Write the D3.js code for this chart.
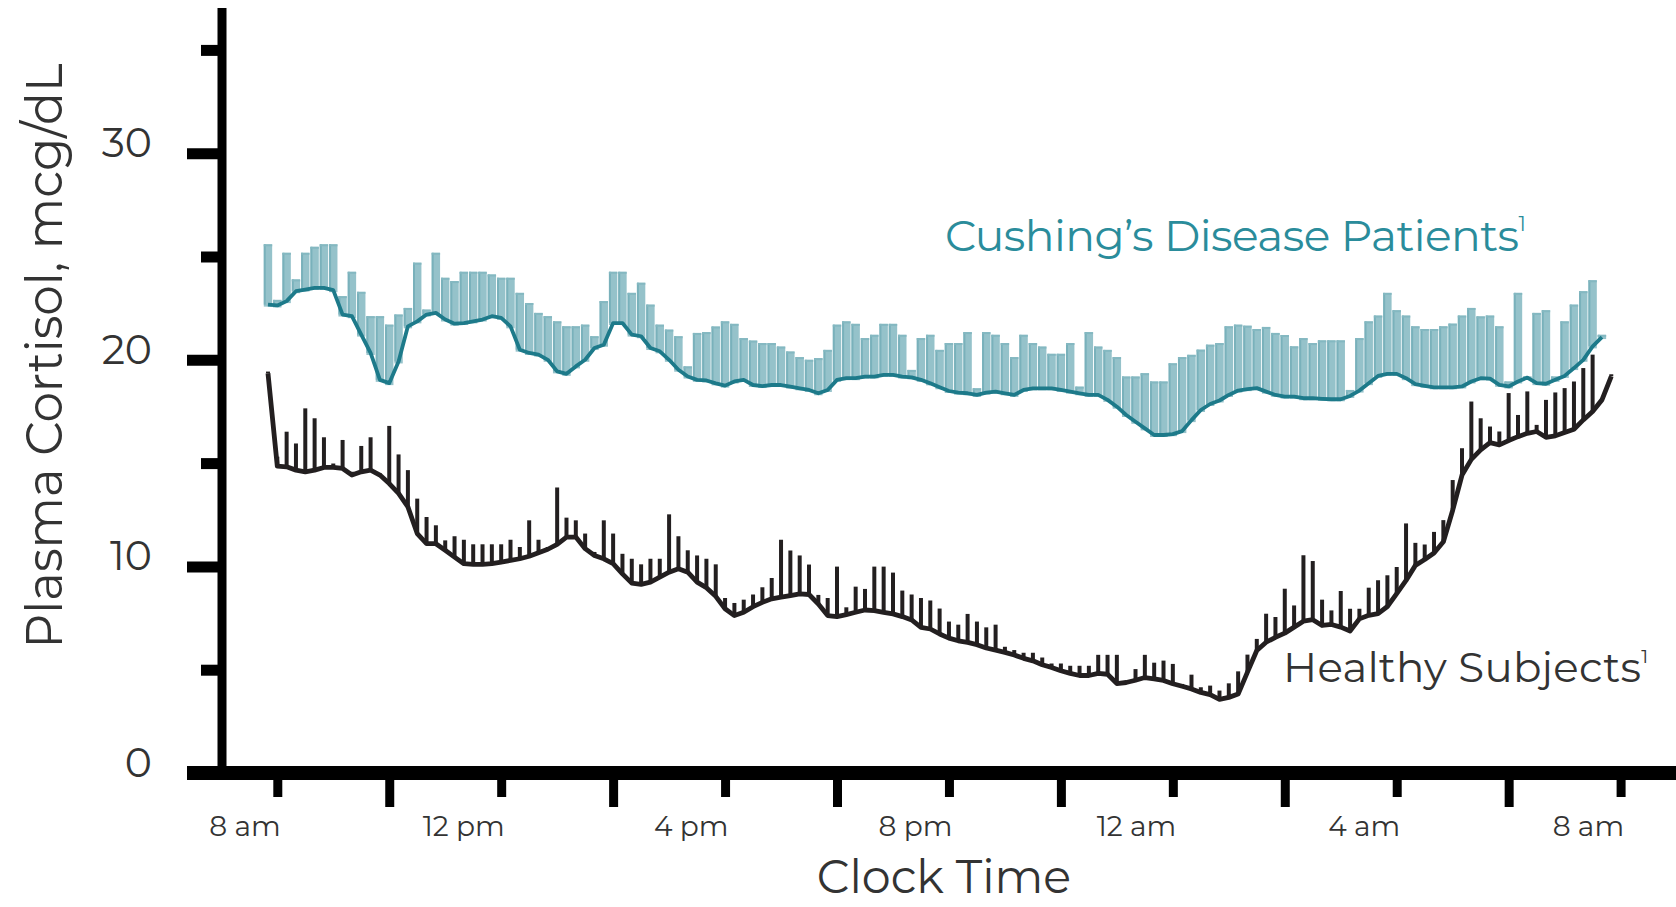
<!DOCTYPE html>
<html><head><meta charset="utf-8">
<script src="https://cdn.jsdelivr.net/npm/d3@7"></script>
<style>html,body{margin:0;padding:0;background:#fff;} svg{display:block;}</style>
</head><body>
<svg id="chart" width="1676" height="907"></svg>
<script>
// sampling times, minutes after 8 am
const sampleMinutes = [-10,0,10,20,30,40,50,60,70,80,90,100,110,120,130,140,150,160,170,180,190,200,210,220,230,240,250,260,270,280,290,300,310,320,330,340,350,360,370,380,390,400,410,420,430,440,450,460,470,480,490,500,510,520,530,540,550,560,570,580,590,600,610,620,630,640,650,660,670,680,690,700,710,720,730,740,750,760,770,780,790,800,810,820,830,840,850,860,870,880,890,900,910,920,930,940,950,960,970,980,990,1000,1010,1020,1030,1040,1050,1060,1070,1080,1090,1100,1110,1120,1130,1140,1150,1160,1170,1180,1190,1200,1210,1220,1230,1240,1250,1260,1270,1280,1290,1300,1310,1320,1330,1340,1350,1360,1370,1380,1390,1400,1410,1420,1430];

const cushingMean = [
22.67,22.63,22.84,23.32,23.40,23.48,23.48,23.37,22.19,22.11,
21.22,20.33,19.03,18.87,19.92,21.62,21.86,22.19,22.27,21.95,
21.75,21.78,21.86,21.95,22.11,22.03,21.62,20.49,20.33,20.25,
20.00,19.44,19.32,19.68,20.00,20.57,20.73,21.78,21.78,21.22,
21.14,20.57,20.41,20.00,19.52,19.19,19.03,19.00,18.86,18.75,
18.95,19.03,18.78,18.73,18.78,18.78,18.70,18.62,18.54,18.38,
18.54,19.03,19.11,19.11,19.19,19.19,19.27,19.27,19.19,19.15,
19.03,18.86,18.67,18.49,18.41,18.38,18.30,18.41,18.46,18.38,
18.30,18.54,18.62,18.62,18.62,18.54,18.46,18.38,18.30,18.30,
18.06,17.73,17.33,17.00,16.68,16.36,16.36,16.40,16.55,17.08,
17.57,17.86,18.03,18.30,18.51,18.58,18.63,18.46,18.30,18.22,
18.22,18.14,18.14,18.11,18.09,18.09,18.25,18.51,18.87,19.22,
19.32,19.32,19.11,18.82,18.74,18.67,18.67,18.67,18.71,18.95,
19.11,19.09,18.79,18.71,18.95,19.14,18.87,18.84,19.03,19.22,
19.60,20.00,20.65,21.10];

const cushingUpper = [
25.59,22.90,25.18,23.89,25.18,25.47,25.59,25.59,23.08,24.26,
23.29,22.11,22.11,21.70,22.19,22.51,24.70,22.43,25.18,23.97,
23.81,24.26,24.26,24.26,24.13,23.97,23.97,23.24,22.75,22.27,
22.11,21.86,21.62,21.62,21.70,21.14,22.84,24.26,24.26,23.24,
23.73,22.67,21.70,21.46,21.14,19.68,21.30,21.34,21.61,21.86,
21.74,21.05,20.93,20.81,20.81,20.64,20.40,20.13,20.00,20.08,
20.48,21.70,21.86,21.74,21.05,21.21,21.74,21.74,21.21,19.51,
21.05,21.21,20.48,20.81,20.81,21.34,18.62,21.34,21.21,20.81,
20.13,21.21,20.81,20.64,20.29,20.29,20.81,18.70,21.34,20.64,
20.48,20.13,19.19,19.19,19.35,18.95,18.95,19.83,20.13,20.24,
20.49,20.73,20.81,21.62,21.70,21.65,21.49,21.59,21.30,21.20,
20.65,21.05,20.81,20.94,20.94,20.94,18.54,21.05,21.86,22.14,
23.24,22.40,22.14,21.62,21.49,21.49,21.62,21.75,22.14,22.51,
22.10,22.14,21.62,18.95,23.24,19.19,22.27,22.40,19.19,21.86,
22.67,23.32,23.85,21.21];

const healthyMean = [
19.35,14.85,14.82,14.66,14.58,14.66,14.79,14.79,14.74,14.42,
14.58,14.66,14.42,14.01,13.53,12.88,11.59,11.10,11.10,10.78,
10.45,10.13,10.10,10.10,10.13,10.21,10.29,10.37,10.49,10.66,
10.83,11.07,11.42,11.42,10.86,10.53,10.37,10.13,9.64,9.19,
9.13,9.24,9.48,9.72,9.89,9.72,9.24,8.97,8.55,7.95,
7.62,7.78,8.05,8.26,8.43,8.51,8.59,8.67,8.64,8.18,
7.62,7.57,7.67,7.78,7.89,7.86,7.78,7.70,7.57,7.41,
7.05,6.97,6.73,6.53,6.40,6.32,6.21,6.05,5.95,5.84,
5.71,5.55,5.43,5.24,5.11,4.95,4.82,4.72,4.72,4.82,
4.78,4.33,4.38,4.49,4.62,4.56,4.48,4.32,4.20,4.07,
3.90,3.79,3.56,3.66,3.82,4.88,5.93,6.33,6.57,6.77,
7.06,7.35,7.42,7.14,7.19,7.06,6.87,7.46,7.63,7.71,
8.06,8.68,9.32,10.05,10.33,10.65,11.19,12.72,14.42,15.18,
15.64,15.99,15.88,16.09,16.28,16.44,16.53,16.25,16.32,16.48,
16.64,17.09,17.50,18.06,19.20];

const healthyUpper = [
19.43,15.31,16.52,15.95,17.65,17.17,16.25,14.98,16.12,14.58,
15.83,16.25,14.50,16.80,15.42,14.66,13.28,12.39,11.99,11.26,
11.46,11.29,11.07,11.07,11.07,11.07,11.29,10.94,12.23,11.29,
10.94,13.82,12.36,12.23,11.59,10.70,12.23,11.59,10.61,10.37,
10.10,10.37,10.37,12.52,11.46,10.78,10.53,10.37,10.10,8.47,
8.23,8.39,8.64,8.99,9.44,11.29,10.77,10.53,10.09,8.62,
8.47,9.99,8.02,9.02,8.91,9.99,9.99,9.70,8.83,8.64,
8.47,8.35,7.96,7.33,7.18,7.70,7.33,7.05,7.18,6.11,
5.95,5.82,5.82,5.59,5.30,5.30,5.19,5.19,5.19,5.72,
5.72,5.72,4.46,5.03,5.72,5.34,5.44,5.28,4.31,4.76,
4.15,4.23,3.99,4.34,4.92,5.73,6.49,7.71,7.55,8.92,
8.11,10.54,10.26,8.39,7.87,8.81,7.95,7.95,8.97,9.33,
9.57,9.97,12.08,11.14,11.06,11.67,12.24,14.18,15.72,17.98,
17.17,16.77,16.53,18.39,17.33,18.47,16.85,18.06,18.42,18.63,
18.95,19.60,20.25,18.10,19.30];

const xLabelledTicks = [0,240,480,720,960,1200,1440];
const xOtherTicks = [120,360,600,840,1080,1320];
const xTickLabels = ["8 am","12 pm","4 pm","8 pm","12 am","4 am","8 am"];
const yMajorTicks = [10,20,30];
const yMinorTicks = [5,15,25,35];
const yTickLabels = [0,10,20,30];
const seriesNames = ["Cushing\u2019s Disease Patients","Healthy Subjects"];

const FONT = "Montserrat, 'Open Sans', 'Noto Sans', sans-serif";
const svg = d3.select("#chart");

const x = d3.scaleLinear().domain([0,1440]).range([277.3,1620.6]);
const y = d3.scaleLinear().domain([0,30]).range([773,153.2]);

// axes
const xShort = d3.axisBottom(x).tickValues(xLabelledTicks).tickSize(24).tickFormat("");
const xLong = d3.axisBottom(x).tickValues(xOtherTicks).tickSize(34).tickFormat("");
[xShort,xLong].forEach(ax=>{
  const g = svg.append("g").attr("transform","translate(0,773)").call(ax);
  g.select(".domain").remove();
  g.selectAll(".tick line").attr("stroke","#000").attr("stroke-width",9);
});
const yMaj = d3.axisLeft(y).tickValues(yMajorTicks).tickSize(35).tickFormat("");
const yMin = d3.axisLeft(y).tickValues(yMinorTicks).tickSize(21).tickFormat("");
[yMaj,yMin].forEach(ax=>{
  const g = svg.append("g").attr("transform","translate(222,0)").call(ax);
  g.select(".domain").remove();
  g.selectAll(".tick line").attr("stroke","#000").attr("stroke-width",11);
});
svg.append("line").attr("x1",222).attr("x2",222).attr("y1",8).attr("y2",780)
  .attr("stroke","#000").attr("stroke-width",9);
svg.append("line").attr("x1",187).attr("x2",1676).attr("y1",773).attr("y2",773)
  .attr("stroke","#000").attr("stroke-width",14);

// tick labels
svg.append("g").selectAll("text").data(xLabelledTicks).join("text")
  .attr("x",d=>x(d)+3.5).attr("y",836).attr("text-anchor","end")
  .attr("font-family",FONT).attr("font-size",28).attr("fill","#333")
  .text((d,i)=>xTickLabels[i]);
svg.append("g").selectAll("text").data(yTickLabels).join("text")
  .attr("x",152).attr("y",d=>y(d)+4).attr("text-anchor","end")
  .attr("font-family",FONT).attr("font-size",41).attr("fill","#333")
  .text(d=>d);

// titles
svg.append("text").attr("x",944).attr("y",893).attr("text-anchor","middle")
  .attr("font-family",FONT).attr("font-size",46).attr("fill","#333")
  .text("Clock Time");
svg.append("text").attr("transform","translate(62,356) rotate(-90)").attr("text-anchor","middle")
  .attr("font-family",FONT).attr("font-size",50).attr("fill","#333")
  .attr("textLength",585).attr("lengthAdjust","spacingAndGlyphs")
  .text("Plasma Cortisol, mcg/dL");

// series data rows
const cData = cushingMean.map((m,i)=>({t:sampleMinutes[i],m,u:cushingUpper[i]}));
const hData = healthyMean.map((m,i)=>({t:sampleMinutes[i],m,u:healthyUpper[i]}));

// Cushing series
const cg = svg.append("g");
cg.selectAll("rect").data(cData).join("rect")
  .attr("x",d=>x(d.t)-4.2).attr("width",8.4)
  .attr("y",d=>y(d.u)).attr("height",d=>Math.max(0,y(d.m)-y(d.u)+2))
  .attr("fill","#95c2ca");
cg.selectAll("line.edge").data(cData).join("line").attr("class","edge")
  .attr("x1",d=>x(d.t)-3.2).attr("x2",d=>x(d.t)-3.2)
  .attr("y1",d=>y(d.u)).attr("y2",d=>y(d.m))
  .attr("stroke","#79b1bb").attr("stroke-width",2);
cg.selectAll("line.cap").data(cData).join("line").attr("class","cap")
  .attr("x1",d=>x(d.t)-4.2).attr("x2",d=>x(d.t)+4.2)
  .attr("y1",d=>y(d.u)+1).attr("y2",d=>y(d.u)+1)
  .attr("stroke","#84b8c1").attr("stroke-width",2);
const line = d3.line().x(d=>x(d.t)).y(d=>y(d.m));
svg.append("path").datum(cData).attr("d",line).attr("fill","none")
  .attr("stroke","#1d7a8a").attr("stroke-width",3.8).attr("stroke-linejoin","round");

// Healthy series
const hg = svg.append("g");
hg.selectAll("line").data(hData).join("line")
  .attr("x1",d=>x(d.t)).attr("x2",d=>x(d.t))
  .attr("y1",d=>y(d.u)).attr("y2",d=>y(d.m))
  .attr("stroke","#231f20").attr("stroke-width",4);
svg.append("path").datum(hData).attr("d",line).attr("fill","none")
  .attr("stroke","#231f20").attr("stroke-width",4.8).attr("stroke-linejoin","round");

// series labels
const lc = svg.append("text").attr("x",945).attr("y",251)
  .attr("font-family",FONT).attr("font-size",44).attr("fill","#2a8c9b");
lc.append("tspan").attr("textLength",574).attr("lengthAdjust","spacing").text(seriesNames[0]);
lc.append("tspan").attr("font-size",20).attr("dy",-20).text("1");
const lh = svg.append("text").attr("x",1283).attr("y",682)
  .attr("font-family",FONT).attr("font-size",42).attr("fill","#333");
lh.append("tspan").attr("textLength",358).attr("lengthAdjust","spacing").text(seriesNames[1]);
lh.append("tspan").attr("font-size",19).attr("dy",-19).text("1");
</script>
</body></html>
